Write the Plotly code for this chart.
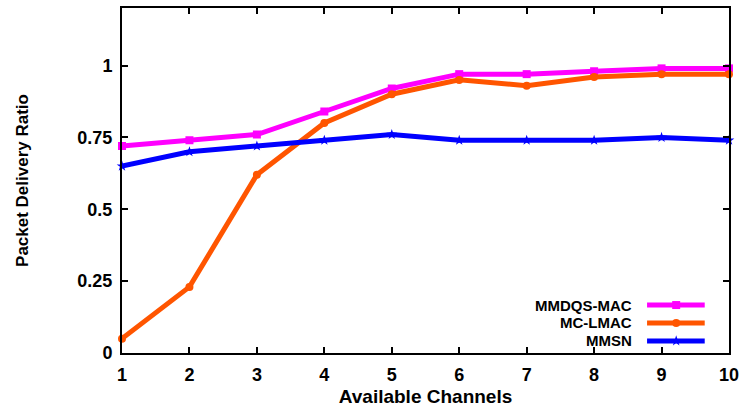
import plotly.graph_objects as go

channels = [1, 2, 3, 4, 5, 6, 7, 8, 9, 10]
mmdqs_mac = [0.72, 0.74, 0.76, 0.84, 0.92, 0.97, 0.97, 0.98, 0.99, 0.99]
mc_lmac = [0.05, 0.23, 0.62, 0.80, 0.90, 0.95, 0.93, 0.96, 0.97, 0.97]
mmsn = [0.65, 0.70, 0.72, 0.74, 0.76, 0.74, 0.74, 0.74, 0.75, 0.74]

series_names = ["MMDQS-MAC", "MC-LMAC", "MMSN"]
series_values = [mmdqs_mac, mc_lmac, mmsn]
series_colors = ["#FF00FF", "#FF5500", "#0000FF"]
series_symbols = ["square", "circle", "star"]

y_ticks = [0, 0.25, 0.5, 0.75, 1]
y_tick_labels = ["0", "0.25", "0.5", "0.75", "1"]

FONT = "Liberation Sans, Arial, sans-serif"

fig = go.Figure()
for name, vals, col, sym in zip(series_names, series_values, series_colors, series_symbols):
    fig.add_trace(go.Scatter(
        x=channels, y=vals, name=name, mode="lines+markers",
        line=dict(color=col, width=5),
        marker=dict(color=col, size=8, symbol=sym),
        cliponaxis=False, showlegend=False,
    ))

# custom legend: text right-aligned, line sample on right
leg_y = [0.139, 0.087, 0.035]
for name, col, sym, yy in zip(series_names, series_colors, series_symbols, leg_y):
    fig.add_annotation(x=0.842, y=yy, xref="paper", yref="paper", text=name,
                       showarrow=False, xanchor="right", yanchor="middle",
                       borderpad=0,
                       font=dict(family=FONT, size=15, color="black", weight="bold"))
    fig.add_shape(type="line", xref="paper", yref="paper", x0=0.865, x1=0.960,
                  y0=yy, y1=yy, line=dict(color=col, width=5))
    fig.add_trace(go.Scatter(x=[0.913], y=[yy], xaxis="x2", yaxis="y2", mode="markers",
                             marker=dict(color=col, size=8, symbol=sym),
                             showlegend=False, hoverinfo="skip", cliponaxis=False))

fig.update_layout(
    width=747, height=407,
    margin=dict(l=122, r=18, t=8, b=54),
    paper_bgcolor="white", plot_bgcolor="white",
    font=dict(family=FONT, color="black"),
    xaxis=dict(range=[1, 10], tickvals=channels, ticks="inside", ticklen=6,
               tickwidth=1.5, tickcolor="black", automargin=False,
               showline=True, linecolor="black", linewidth=2, mirror="ticks",
               showgrid=False, zeroline=False, ticklabelstandoff=4,
               tickfont=dict(family=FONT, size=18, weight="bold"),
               title=dict(text="Available Channels", standoff=6,
                          font=dict(family=FONT, size=19, weight="bold"))),
    yaxis=dict(range=[0, 1.2], tickvals=y_ticks, ticktext=y_tick_labels,
               ticks="inside", ticklen=6, tickwidth=1.5, tickcolor="black",
               automargin=False,
               showline=True, linecolor="black", linewidth=2, mirror="ticks",
               showgrid=False, zeroline=False, ticklabelstandoff=4,
               tickfont=dict(family=FONT, size=18, weight="bold"),
               title=dict(text="Packet Delivery Ratio", standoff=44,
                          font=dict(family=FONT, size=17, weight="bold"))),
    xaxis2=dict(range=[0, 1], overlaying="x", visible=False),
    yaxis2=dict(range=[0, 1], overlaying="y", visible=False),
)

fig.write_html("out.html")
